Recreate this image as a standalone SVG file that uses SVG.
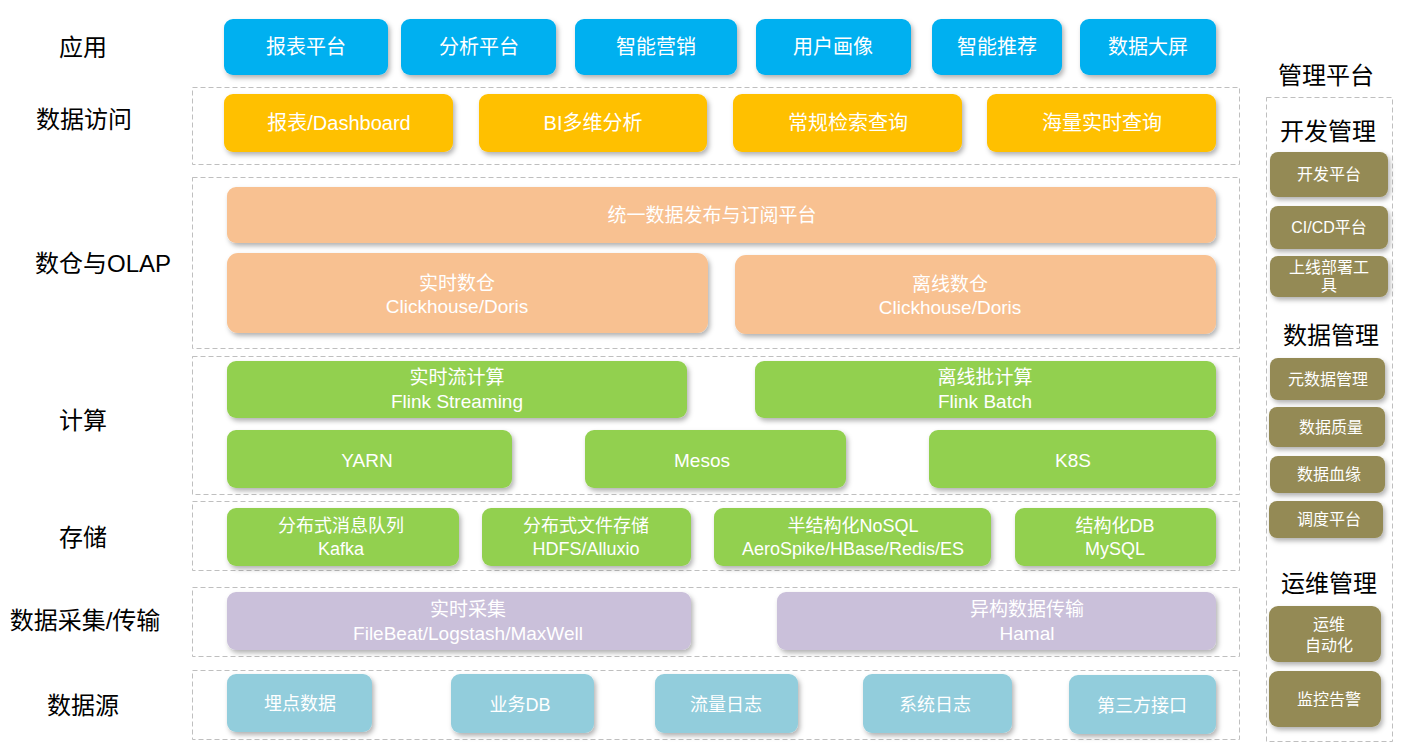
<svg xmlns="http://www.w3.org/2000/svg" width="1414" height="753" viewBox="0 0 1414 753">
<defs>
<filter id="sh" x="-10%" y="-20%" width="130%" height="160%">
<feDropShadow dx="2" dy="3" stdDeviation="2.5" flood-color="#000" flood-opacity="0.3"/>
</filter>
<style>
.lane{fill:none;stroke:#bfbfbf;stroke-width:1;stroke-dasharray:5 3}
.n rect{filter:url(#sh)}
.t{font-family:"Liberation Sans","Noto Sans CJK SC",sans-serif;fill:#fff;text-anchor:middle}
.lbl{font-family:"Liberation Sans","Noto Sans CJK SC",sans-serif;fill:#000;text-anchor:middle;font-size:24px}
.blue{fill:#00B0F0}.yel{fill:#FFC000}.pch{fill:#F8C191}.grn{fill:#92D050}.lav{fill:#CAC0DA}.lb{fill:#92CDDC}.olv{fill:#948A54}
</style>
</defs>
<rect width="1414" height="753" fill="#fff"/>
<g id="lanes">
<rect class="lane" x="192.500" y="87.500" width="1047" height="77"/>
<rect class="lane" x="192.500" y="177.500" width="1047" height="171"/>
<rect class="lane" x="192.500" y="356.500" width="1047" height="138"/>
<rect class="lane" x="192.500" y="501.500" width="1047" height="69"/>
<rect class="lane" x="192.500" y="587.500" width="1047" height="69"/>
<rect class="lane" x="192.500" y="670.500" width="1047" height="69"/>
<rect class="lane" x="1266.500" y="97.500" width="126" height="644"/>
</g>
<g id="labels">
<text class="lbl" x="83" y="56">应用</text>
<text class="lbl" x="84" y="128">数据访问</text>
<text class="lbl" x="103" y="272">数仓与OLAP</text>
<text class="lbl" x="83" y="429">计算</text>
<text class="lbl" x="83" y="546">存储</text>
<text class="lbl" x="85" y="629">数据采集/传输</text>
<text class="lbl" x="83" y="714">数据源</text>
<text class="lbl" x="1326" y="84">管理平台</text>
<text class="lbl" x="1328" y="140">开发管理</text>
<text class="lbl" x="1331" y="344">数据管理</text>
<text class="lbl" x="1329" y="592">运维管理</text>
</g>
<g id="app" class="n" font-size="20">
<g id="n-baobiao"><rect class="blue" x="224" y="19" width="164" height="56" rx="9"/><text class="t" x="306" y="54">报表平台</text></g>
<g id="n-fenxi"><rect class="blue" x="401" y="19" width="155" height="56" rx="9"/><text class="t" x="479" y="54">分析平台</text></g>
<g id="n-yingxiao"><rect class="blue" x="575" y="19" width="162" height="56" rx="9"/><text class="t" x="656" y="54">智能营销</text></g>
<g id="n-huaxiang"><rect class="blue" x="756" y="19" width="155" height="56" rx="9"/><text class="t" x="833" y="54">用户画像</text></g>
<g id="n-tuijian"><rect class="blue" x="932" y="19" width="130" height="56" rx="9"/><text class="t" x="997" y="54">智能推荐</text></g>
<g id="n-daping"><rect class="blue" x="1080" y="19" width="136" height="56" rx="9"/><text class="t" x="1148" y="54">数据大屏</text></g>
</g>
<g id="access" class="n" font-size="20">
<g id="n-dashboard"><rect class="yel" x="224" y="94" width="229" height="58" rx="9"/><text class="t" x="339" y="130">报表/Dashboard</text></g>
<g id="n-bi"><rect class="yel" x="479" y="94" width="228" height="58" rx="9"/><text class="t" x="593" y="130">BI多维分析</text></g>
<g id="n-jiansuo"><rect class="yel" x="733" y="94" width="229" height="58" rx="9"/><text class="t" x="848" y="130">常规检索查询</text></g>
<g id="n-haiLiang"><rect class="yel" x="987" y="94" width="229" height="58" rx="9"/><text class="t" x="1102" y="130">海量实时查询</text></g>
</g>
<g id="olap" class="n" font-size="19">
<g id="n-tongyi"><rect class="pch" x="227" y="187" width="989" height="56" rx="9"/><text class="t" x="712" y="222">统一数据发布与订阅平台</text></g>
<g id="n-shishi-dw"><rect class="pch" x="227" y="253" width="481" height="80" rx="11"/><text class="t" x="457" y="290">实时数仓</text><text class="t" x="457" y="313">Clickhouse/Doris</text></g>
<g id="n-lixian-dw"><rect class="pch" x="735" y="255" width="481" height="79" rx="11"/><text class="t" x="950" y="291">离线数仓</text><text class="t" x="950" y="314">Clickhouse/Doris</text></g>
</g>
<g id="compute" class="n" font-size="19">
<g id="n-stream"><rect class="grn" x="227" y="361" width="460" height="57" rx="9"/><text class="t" x="457" y="384">实时流计算</text><text class="t" x="457" y="408">Flink Streaming</text></g>
<g id="n-batch"><rect class="grn" x="755" y="361" width="461" height="57" rx="9"/><text class="t" x="985" y="384">离线批计算</text><text class="t" x="985" y="408">Flink Batch</text></g>
<g id="n-yarn"><rect class="grn" x="227" y="430" width="285" height="58" rx="9"/><text class="t" x="367" y="467">YARN</text></g>
<g id="n-mesos"><rect class="grn" x="585" y="430" width="261" height="58" rx="9"/><text class="t" x="702" y="467">Mesos</text></g>
<g id="n-k8s"><rect class="grn" x="929" y="430" width="287" height="58" rx="9"/><text class="t" x="1073" y="467">K8S</text></g>
</g>
<g id="storage" class="n" font-size="18">
<g id="n-kafka"><rect class="grn" x="227" y="508" width="232" height="58" rx="9"/><text class="t" x="341" y="532">分布式消息队列</text><text class="t" x="341" y="555">Kafka</text></g>
<g id="n-hdfs"><rect class="grn" x="482" y="508" width="209" height="58" rx="9"/><text class="t" x="586" y="532">分布式文件存储</text><text class="t" x="586" y="555">HDFS/Alluxio</text></g>
<g id="n-nosql"><rect class="grn" x="714" y="508" width="277" height="58" rx="9"/><text class="t" x="853" y="532">半结构化NoSQL</text><text class="t" x="853" y="555">AeroSpike/HBase/Redis/ES</text></g>
<g id="n-mysql"><rect class="grn" x="1015" y="508" width="201" height="58" rx="9"/><text class="t" x="1115" y="532">结构化DB</text><text class="t" x="1115" y="555">MySQL</text></g>
</g>
<g id="collect" class="n" font-size="19">
<g id="n-caiji"><rect class="lav" x="227" y="592" width="464" height="58" rx="9"/><text class="t" x="468" y="616">实时采集</text><text class="t" x="468" y="640">FileBeat/Logstash/MaxWell</text></g>
<g id="n-hamal"><rect class="lav" x="777" y="592" width="439" height="58" rx="9"/><text class="t" x="1027" y="616">异构数据传输</text><text class="t" x="1027" y="640">Hamal</text></g>
</g>
<g id="source" class="n" font-size="18">
<g id="n-maidian"><rect class="lb" x="227" y="674" width="145" height="58" rx="9"/><text class="t" x="300" y="710">埋点数据</text></g>
<g id="n-yewu"><rect class="lb" x="451" y="674" width="143" height="59" rx="9"/><text class="t" x="520" y="711">业务DB</text></g>
<g id="n-liuliang"><rect class="lb" x="655" y="674" width="143" height="59" rx="9"/><text class="t" x="726" y="711">流量日志</text></g>
<g id="n-xitong"><rect class="lb" x="863" y="674" width="149" height="59" rx="9"/><text class="t" x="935" y="711">系统日志</text></g>
<g id="n-disanfang"><rect class="lb" x="1069" y="675" width="147" height="59" rx="9"/><text class="t" x="1142" y="712">第三方接口</text></g>
</g>
<g id="mgmt" class="n" font-size="16">
<g id="n-kaifa"><rect class="olv" x="1270" y="152" width="118" height="45" rx="8"/><text class="t" x="1329" y="180">开发平台</text></g>
<g id="n-cicd"><rect class="olv" x="1270" y="206" width="118" height="43" rx="8"/><text class="t" x="1329" y="233">CI/CD平台</text></g>
<g id="n-shangxian"><rect class="olv" x="1270" y="256" width="118" height="41" rx="8"/><text class="t" x="1329" y="273">上线部署工</text><text class="t" x="1329" y="291">具</text></g>
<g id="n-yuanshuju"><rect class="olv" x="1270" y="358" width="115" height="42" rx="8"/><text class="t" x="1328" y="385">元数据管理</text></g>
<g id="n-zhiliang"><rect class="olv" x="1269" y="407" width="116" height="40" rx="8"/><text class="t" x="1331" y="433">数据质量</text></g>
<g id="n-xueyuan"><rect class="olv" x="1270" y="456" width="115" height="37" rx="8"/><text class="t" x="1329" y="480">数据血缘</text></g>
<g id="n-diaodu"><rect class="olv" x="1269" y="501" width="114" height="37" rx="8"/><text class="t" x="1329" y="525">调度平台</text></g>
<g id="n-yunwei"><rect class="olv" x="1269" y="606" width="112" height="56" rx="9"/><text class="t" x="1329" y="630">运维</text><text class="t" x="1329" y="651">自动化</text></g>
<g id="n-jiankong"><rect class="olv" x="1269" y="671" width="112" height="56" rx="9"/><text class="t" x="1329" y="705">监控告警</text></g>
</g>
<g id="connectors"/>
</svg>
